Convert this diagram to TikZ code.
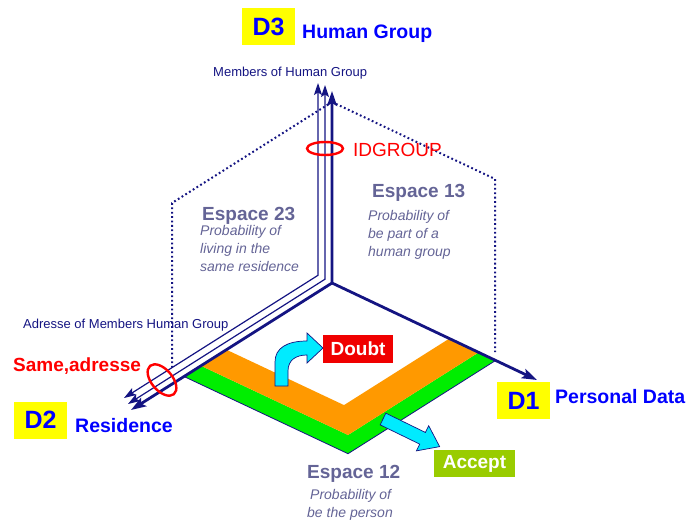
\documentclass[tikz,border=0pt]{standalone}
\usepackage{fontspec}
\setmainfont{Liberation Sans}
\usetikzlibrary{arrows.meta,shapes.geometric}
\definecolor{navy}{RGB}{20,20,130}
\definecolor{lblblue}{RGB}{0,0,255}
\definecolor{slate}{RGB}{100,100,150}
\definecolor{dyellow}{RGB}{255,255,0}
\definecolor{floorgreen}{RGB}{0,238,0}
\definecolor{floororange}{RGB}{255,153,0}
\definecolor{tipcyan}{RGB}{0,235,255}
\definecolor{doubtred}{RGB}{240,0,0}
\definecolor{acceptgreen}{RGB}{153,204,0}

\tikzset{
  bigtip/.tip={Stealth[length=15pt,width=10pt,inset=3pt]},
  smalltip/.tip={Stealth[length=12pt,width=8pt,inset=2.5pt]}
}

\begin{document}
\begin{tikzpicture}[x=1pt,y=-1pt,
  mainaxis/.style={draw=navy, line width=2.8pt, line join=miter},
  thinaxis/.style={draw=navy, line width=1.2pt, line join=miter},
  dotline/.style={draw=navy, line width=2pt, dash pattern=on 1.8pt off 2.6pt},
  dimbox/.style={fill=dyellow, text=lblblue, font=\bfseries\fontsize{25}{25}\selectfont,
    minimum width=53pt, minimum height=37pt, inner sep=0pt},
  dimname/.style={anchor=base west, inner sep=0pt, text=lblblue,
    font=\bfseries\fontsize{19.5}{19.5}\selectfont},
  smallname/.style={anchor=base west, inner sep=0pt, text=navy,
    font=\fontsize{13}{13}\selectfont},
  redtag/.style={anchor=base west, inner sep=0pt, text=red},
  spacehead/.style={anchor=base west, inner sep=0pt, text=slate,
    font=\bfseries\fontsize{19}{19}\selectfont},
  spacetext/.style={anchor=base west, inner sep=0pt, text=slate,
    font=\itshape\fontsize{14}{14}\selectfont},
  ring/.style={draw=red, line width=2.4pt, ellipse, inner sep=0pt},
  bigarrow/.style={fill=tipcyan, draw=navy, line width=0.7pt, line join=miter},
  decision/.style={text=white, font=\bfseries\fontsize{19}{19}\selectfont, inner sep=0pt}
]
\useasboundingbox (0,0) rectangle (686,522);

% key points of the three axes
\coordinate (O) at (332,283);
\coordinate (d1tip) at (537,380);
\coordinate (d2tip) at (131,410);
\coordinate (d3tip) at (332,91);
% offset guide lines (top and bottom ends, corners)
\coordinate (ga top) at (318,83);
\coordinate (ga corner) at (318,275.3);
\coordinate (ga end) at (124,398);
\coordinate (gb top) at (325,85);
\coordinate (gb corner) at (325,279.2);
\coordinate (gb end) at (128,404);
% projection planes
\coordinate (P3) at (332,102);
\coordinate (L23) at (172,203);
\coordinate (L23b) at (172,368);
\coordinate (R13) at (495,179);
\coordinate (R13b) at (495,352);
% floor bands in the D1-D2 plane
\coordinate (A2) at (184,376.5);
\coordinate (B) at (348,453.7);
\coordinate (A1) at (496,360.2);
\coordinate (G1) at (479,352.2);
\coordinate (GV) at (348,435);
\coordinate (G2) at (201,365.8);
\coordinate (O1) at (449.6,338.4);
\coordinate (OV) at (344,405.1);
\coordinate (O2) at (226.4,349.7);

% dotted outlines of the vertical planes
\draw[dotline] (P3) -- (L23) -- (L23b);
\draw[dotline] (P3) -- (R13) -- (R13b);

% floor bands
\fill[floorgreen] (A2) -- (B) -- (A1) -- (G1) -- (GV) -- (G2) -- cycle;
\fill[floororange] (G2) -- (GV) -- (G1) -- (O1) -- (OV) -- (O2) -- cycle;
\draw[navy, line width=0.8pt] (A2) -- (B) -- (A1);

% decision arrows
\draw[bigarrow] (275,386) -- (275,362) .. controls (275,348) and (287,341) .. (307,341)
  -- (307,333) -- (323,348) -- (307,363) -- (307,355)
  .. controls (296,355) and (288,360) .. (288,371) -- (288,386) -- cycle;
\draw[bigarrow, shift={(383,419)}, rotate=-26]
  (0,-6.5) -- (44,-6.5) -- (44,-14) -- (63,0) -- (44,14) -- (44,6.5) -- (0,6.5) -- cycle;

% axes
\draw[thinaxis, smalltip-smalltip] (ga top) -- (ga corner) -- (ga end);
\draw[thinaxis, smalltip-smalltip] (gb top) -- (gb corner) -- (gb end);
\draw[mainaxis, bigtip-bigtip] (d3tip) -- (O) -- (d2tip);
\draw[mainaxis, -bigtip] (O) -- (d1tip);

% identifier rings
\node[ring, minimum width=36pt, minimum height=13pt] (idring) at (325,148.5) {};
\node[ring, minimum width=37pt, minimum height=21pt, rotate=-50] (samering) at (162,380) {};

% dimension labels
\node[dimbox] (d3box) at (268.5,26.5) {D3};
\node[dimname] (d3name) at (302,38) {Human Group};
\node[dimbox] (d1box) at (523.5,400.5) {D1};
\node[dimname] (d1name) at (555,403) {Personal Data};
\node[dimbox] (d2box) at (40.5,420) {D2};
\node[dimname] (d2name) at (75,432) {Residence};

\node[smallname] (members) at (213,76) {Members of Human Group};
\node[smallname] (adresse) at (23,328) {Adresse of Members Human Group};
\node[redtag, font=\fontsize{19}{19}\selectfont] (idgroup) at (353,156) {IDGROUP};
\node[redtag, font=\bfseries\fontsize{19}{19}\selectfont] (same) at (13,371) {Same,adresse};

% plane captions
\node[spacehead] (e13) at (372,197) {Espace 13};
\node[spacetext] (e13a) at (368,220) {Probability of};
\node[spacetext] (e13b) at (368,238) {be part of a};
\node[spacetext] (e13c) at (368,256) {human group};

\node[spacehead] (e23) at (202,220) {Espace 23};
\node[spacetext] (e23a) at (200,235) {Probability of};
\node[spacetext] (e23b) at (200,253) {living in the};
\node[spacetext] (e23c) at (200,271) {same residence};

\node[spacehead] (e12) at (307,478) {Espace 12};
\node[spacetext] (e12a) at (310,499) {Probability of};
\node[spacetext] (e12b) at (307,517) {be the person};

% outcomes
\node[decision, fill=doubtred, minimum width=70pt, minimum height=28pt] (doubt) at (358,349) {Doubt};
\node[decision, fill=acceptgreen, minimum width=81pt, minimum height=27pt] (accept) at (474.5,463.5) {Accept};
\end{tikzpicture}
\end{document}
